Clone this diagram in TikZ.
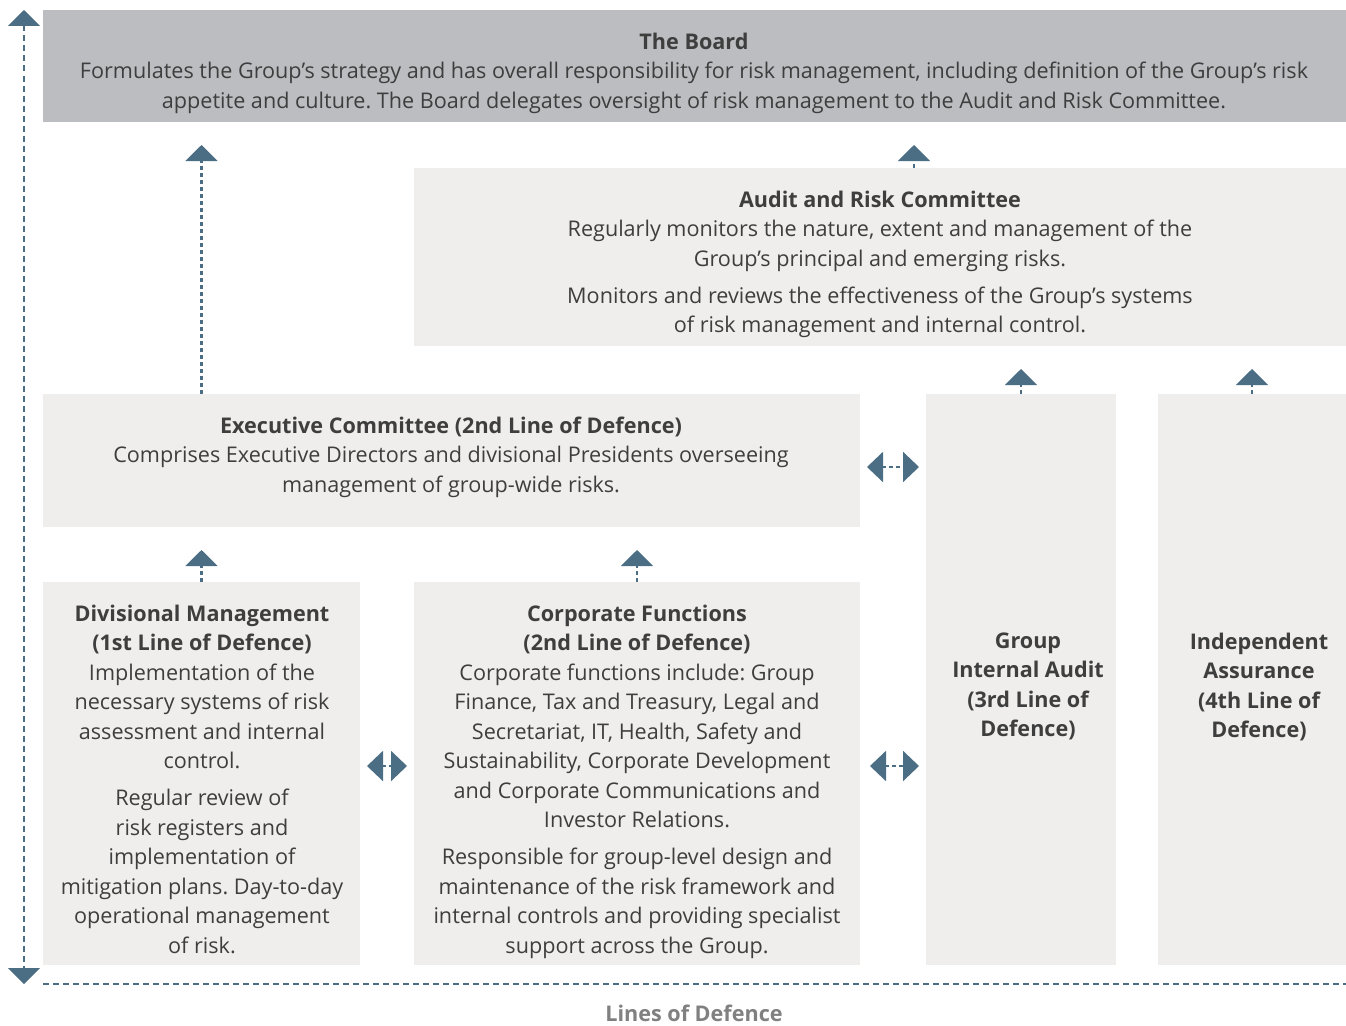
\documentclass[tikz,border=0pt]{standalone}
\usepackage{fontspec}
\setmainfont{Open Sans}
\usetikzlibrary{arrows.meta}
\definecolor{arr}{HTML}{4B6E84}
\definecolor{boardfill}{HTML}{BCBDC1}
\definecolor{boxfill}{HTML}{EFEEEC}
\definecolor{txt}{HTML}{3E3E3E}
\definecolor{lbl}{HTML}{808080}
\frenchspacing
\begin{document}
\begin{tikzpicture}[x=1pt,y=-1pt,
 box/.style={fill=boxfill, draw=none, inner sep=0, outer sep=0},
 txtnode/.style={text=txt, font=\fontsize{21.6}{29.5}\selectfont, align=center, inner sep=0, anchor=north},
 uparrow/.style={arr, line width=2.1, dash pattern=on 4 off 3, -{Triangle[width=32,length=16]}, shorten >=23},
 dblarrow/.style={arr, line width=2.1, dash pattern=on 4 off 3, {Triangle[width=30,length=16]}-{Triangle[width=30,length=16]}},
 axisline/.style={arr, line width=2, dash pattern=on 6 off 4},
]
\useasboundingbox (0,0) rectangle (1346,1025);

% boxes
\node[box, fill=boardfill, minimum width=1303, minimum height=112] (board) at (694.5,66) {};
\node[box, minimum width=932, minimum height=178] (audit) at (880,257) {};
\node[box, minimum width=817, minimum height=133] (exec) at (451.5,460.5) {};
\node[box, minimum width=317, minimum height=383] (div) at (201.5,773.5) {};
\node[box, minimum width=446, minimum height=383] (corp) at (637,773.5) {};
\node[box, minimum width=190, minimum height=571] (gia) at (1021,679.5) {};
\node[box, minimum width=188, minimum height=571] (ia) at (1252,679.5) {};

% texts
\node[txtnode] (boardtxt) at (694,32.5) {\textbf{The Board}\\
Formulates the Group’s strategy and has overall responsibility for risk management, including definition of the Group’s risk\\
appetite and culture. The Board delegates oversight of risk management to the Audit and Risk Committee.};

\node[txtnode] (audittxt) at (880,190.5) {\textbf{Audit and Risk Committee}\\
Regularly monitors the nature, extent and management of the\\
Group’s principal and emerging risks.\\[7.5pt]
Monitors and reviews the effectiveness of the Group’s systems\\
of risk management and internal control.};

\node[txtnode] (exectxt) at (451,416.5) {\textbf{Executive Committee (2nd Line of Defence)}\\
Comprises Executive Directors and divisional Presidents overseeing\\
management of group-wide risks.};

\node[txtnode] (divtxt) at (202,604.5) {\textbf{Divisional Management}\\
\textbf{(1st Line of Defence)}\\
Implementation of the\\
necessary systems of risk\\
assessment and internal\\
control.\\[7.5pt]
Regular review of\\
risk registers and\\
implementation of\\
mitigation plans. Day-to-day\\
operational management\\
of risk.};

\node[txtnode] (corptxt) at (637,604.5) {\textbf{Corporate Functions}\\
\textbf{(2nd Line of Defence)}\\
Corporate functions include: Group\\
Finance, Tax and Treasury, Legal and\\
Secretariat, IT, Health, Safety and\\
Sustainability, Corporate Development\\
and Corporate Communications and\\
Investor Relations.\\[7.5pt]
Responsible for group-level design and\\
maintenance of the risk framework and\\
internal controls and providing specialist\\
support across the Group.};

\node[txtnode, font=\fontsize{21.6}{29.5}\selectfont\bfseries] (giatxt) at (1028,632.5) {Group\\Internal Audit\\(3rd Line of\\Defence)};
\node[txtnode, font=\fontsize{21.6}{29.5}\selectfont\bfseries] (iatxt) at (1259,632.5) {Independent\\Assurance\\(4th Line of\\Defence)};

\node[text=lbl, font=\fontsize{21.6}{24}\selectfont\bfseries, inner sep=0] (lines) at (694,1013.5) {Lines of Defence};

% up arrows
\coordinate (auditport) at ([xshift=34]audit.north);
\draw[uparrow] (exec.north -| div.north) -- (board.south -| div.north);
\draw[uparrow] (auditport) -- (board.south -| auditport);
\draw[uparrow] (div.north) -- (exec.south -| div.north);
\draw[uparrow] (corp.north) -- (exec.south -| corp.north);
\draw[uparrow] (gia.north) -- (audit.south -| gia.north);
\draw[uparrow] (ia.north) -- (audit.south -| ia.north);

% double arrows
\coordinate (ya) at (0,467);
\coordinate (yb) at (0,766);
\draw[dblarrow, shorten <=7, shorten >=7] (exec.east |- ya) -- (gia.west |- ya);
\draw[dblarrow, shorten <=7, shorten >=7] (div.east |- yb) -- (corp.west |- yb);
\draw[dblarrow, shorten <=10, shorten >=7] (corp.east |- yb) -- (gia.west |- yb);

% axes
\coordinate (axtop) at (24,10);
\coordinate (axbot) at (24,984);
\coordinate (hlstart) at (43,984);
\coordinate (hlend) at (1346,984);
\draw[axisline, {Triangle[width=32,length=16]}-{Triangle[width=32,length=16]}] (axtop) -- (axbot);
\draw[axisline] (hlstart) -- (hlend);
\end{tikzpicture}
\end{document}
